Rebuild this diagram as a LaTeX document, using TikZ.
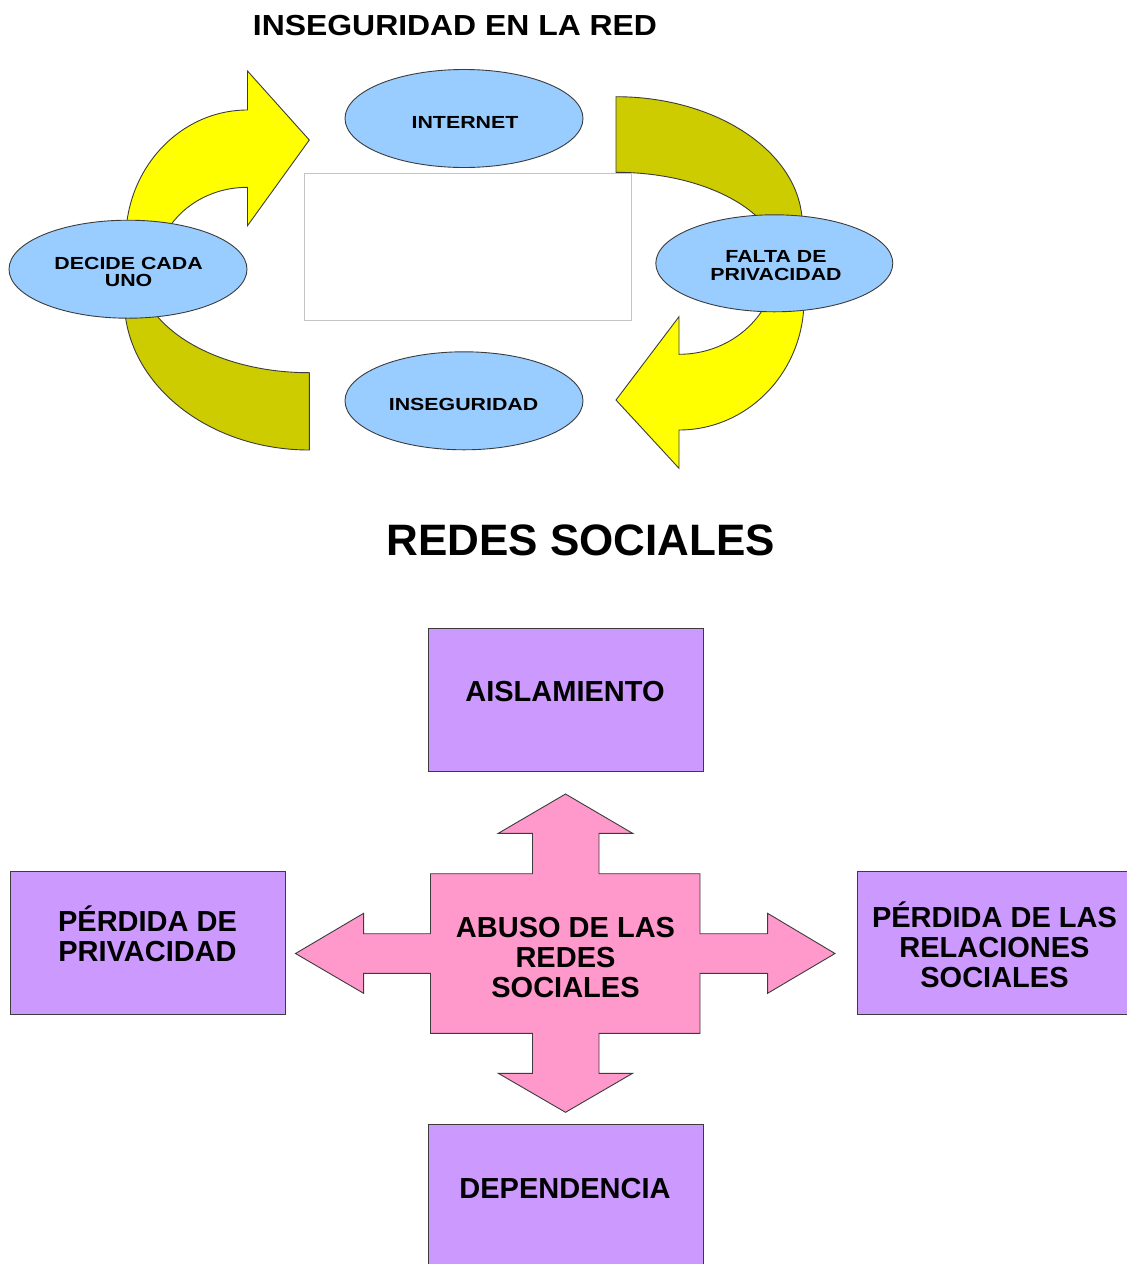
\documentclass[tikz,border=0pt]{standalone}
\usepackage{fontspec}
\setmainfont{Liberation Sans}
\newfontfamily\titlefont[FakeStretch=1.1]{Liberation Sans}
\newfontfamily\ellfont[FakeStretch=1.22]{Liberation Sans}
\usetikzlibrary{shapes.geometric}
\definecolor{yel}{HTML}{FFFF00}
\definecolor{oli}{HTML}{CCCC00}
\definecolor{ellblue}{HTML}{99CCFF}
\definecolor{boxpurple}{HTML}{CC99FF}
\definecolor{crosspink}{HTML}{FF99CC}
\definecolor{edge}{HTML}{3C3C3C}
\definecolor{framegray}{HTML}{C4C4C4}
\begin{document}
\begin{tikzpicture}[x=1pt,y=-1pt,
  shapeline/.style={draw=edge,line width=0.9pt,line join=miter},
  ell/.style={ellipse,shapeline,fill=ellblue,minimum width=238pt,minimum height=98pt,inner sep=0pt},
  elltext/.style={font=\ellfont\bfseries\fontsize{17.5}{17.5}\selectfont,align=center,inner sep=0pt},
  pbox/.style={rectangle,shapeline,fill=boxpurple,minimum width=275pt,minimum height=143pt,inner sep=0pt},
  boxtext/.style={font=\bfseries\fontsize{29}{30}\selectfont,align=center,inner sep=0pt}]
\useasboundingbox (0,0) rectangle (1127,1264);
\fill[white] (0,0) rectangle (1127,1264);

% ---------- top cycle ----------
\node[font=\titlefont\bfseries\fontsize{29}{29}\selectfont,inner sep=0pt] (title1) at (455,25.3) {INSEGURIDAD EN LA RED};

% circular arrows
\draw[shapeline,fill=yel] (125.7,269) -- (125.7,240) .. controls (125.7,168.2) and (180.3,110) .. (247.5,110)
  -- (247.5,71) -- (309.3,140) -- (247.5,225.7) -- (247.5,187.3)
  .. controls (197,187.3) and (156.5,224) .. (156.5,269) -- cycle;
\draw[shapeline,fill=oli] (616,96.7) .. controls (718.8,96.7) and (802.3,154.2) .. (802.3,225) -- (802.3,263)
  -- (780,263) .. controls (780,212.9) and (706.5,172.3) .. (616,172.3) -- cycle;
\draw[shapeline,fill=yel] (804,263) -- (804,300) .. controls (804,371.8) and (748,430) .. (679,430)
  -- (679,468.3) -- (616,400) -- (679,316.7) -- (679,354.3)
  .. controls (732.8,354.3) and (776.4,313.4) .. (776.4,263) -- cycle;
\draw[shapeline,fill=oli] (124.3,269) -- (124.3,300) .. controls (124.3,382.8) and (207.2,450) .. (309.3,450)
  -- (309.3,372.7) .. controls (215,372.7) and (138.5,326.2) .. (138.5,269) -- cycle;

% empty frame
\draw[framegray,line width=0.9pt,fill=white] (304.6,173.7) rectangle (631.6,320);

% ellipses
\node[ell] (internet) at (464,118.5) {};
\node[ell] (decide) at (128,269.2) {};
\node[ell,minimum width=237pt,minimum height=97pt] (falta) at (774.3,263.3) {};
\node[ell] (inseg) at (464,400.8) {};
\node[elltext] (tinternet) at (465,122) {INTERNET};
\node[elltext] (tdecide) at (128.6,272) {DECIDE CADA\\UNO};
\node[elltext] (tfalta) at (776,265.5) {FALTA DE\\PRIVACIDAD};
\node[elltext] (tinseg) at (463.6,404) {INSEGURIDAD};

% ---------- social networks ----------
\node[font=\bfseries\fontsize{44}{44}\selectfont,inner sep=0pt] (title2) at (580.8,540) {REDES SOCIALES};

\node[pbox,anchor=north west] (aisl) at (428,628) {};
\node[pbox,anchor=north west] (perdpriv) at (9.5,870.5) {};
\node[pbox,anchor=north west] (perdrel) at (857,870.5) {};
\node[pbox,anchor=north west] (depend) at (428,1124) {};

\draw[shapeline,fill=crosspink] (430.5,873.7) -- (532.5,873.7) -- (532.5,833.3) -- (498.3,833.3)
  -- (565.5,794) -- (632.6,833.3) -- (599,833.3) -- (599,873.7) -- (700,873.7)
  -- (700,933.7) -- (767.6,933.7) -- (767.6,913.3) -- (835,953.5) -- (767.6,993.3)
  -- (767.6,973.3) -- (700,973.3) -- (700,1033.3) -- (599,1033.3) -- (599,1073.3)
  -- (632.6,1073.3) -- (565.5,1112.3) -- (498.3,1073.3) -- (532.5,1073.3) -- (532.5,1033.3)
  -- (430.5,1033.3) -- (430.5,973.3) -- (363.6,973.3) -- (363.6,993.3) -- (295.5,953.5)
  -- (363.6,913.3) -- (363.6,933.7) -- (430.5,933.7) -- cycle;
\coordinate (crosscenter) at (565.5,958);

\node[boxtext] (taisl) at (565,692) {AISLAMIENTO};
\node[boxtext,text height=50.8pt] (tperdpriv) at (147.5,936) {PÉRDIDA DE\\PRIVACIDAD};
\node[boxtext,text height=80.8pt] (tperdrel) at (994.5,947) {PÉRDIDA DE LAS\\RELACIONES\\SOCIALES};
\node[boxtext] (tabuso) at (crosscenter) {ABUSO DE LAS\\REDES\\SOCIALES};
\node[boxtext] (tdepend) at (565,1189) {DEPENDENCIA};
\end{tikzpicture}
\end{document}
